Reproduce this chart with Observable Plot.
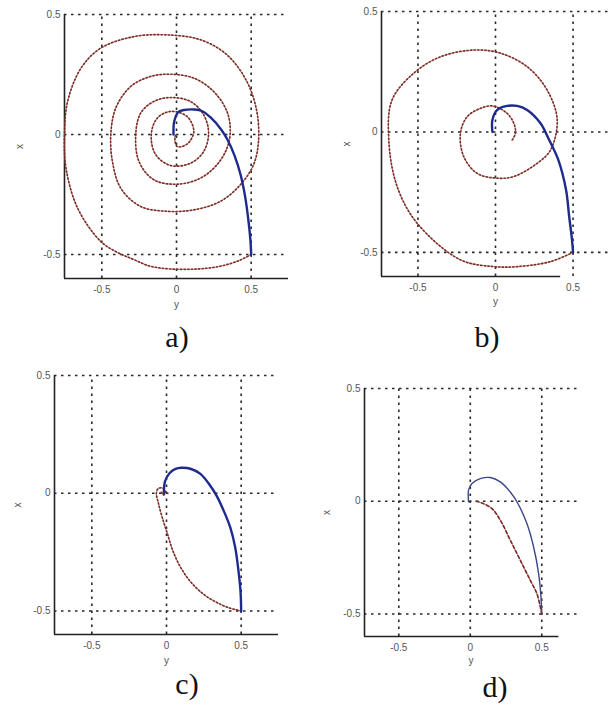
<!DOCTYPE html>
<html>
<head>
<meta charset="utf-8">
<script src="https://cdn.jsdelivr.net/npm/d3@7"></script>
<script src="https://cdn.jsdelivr.net/npm/@observablehq/plot@0.6"></script>
<style>
  html, body { margin: 0; padding: 0; background: #fff; }
  #fig { position: relative; width: 609px; height: 708px; overflow: hidden; background: #fff; }
  .panel { position: absolute; }
  .cap {
    position: absolute;
    font-family: "Liberation Serif", "DejaVu Serif", serif;
    font-size: 30px;
    line-height: 1;
    color: #111;
    transform: translate(-50%, -100%);
    white-space: nowrap;
  }
</style>
</head>
<body>
<div id="fig"></div>
<script>
// Tick positions and their printed labels (same on both axes)
const gridTicks = [-0.5, 0, 0.5];
const tickLabels = ["-0.5", "0", "0.5"];
const captions = ["a)", "b)", "c)", "d)"];

// Trajectories as [y, x] pairs: y runs along the horizontal axis, x along the vertical one.
// Solid (blue) trajectories
const solidA = [[-0.02,0.0],[-0.015,0.055],[0.015,0.095],[0.05,0.102],[0.12,0.104],[0.17,0.098],[0.23,0.07],[0.3,0.02],[0.34,-0.02],[0.39,-0.09],[0.43,-0.17],[0.46,-0.26],[0.48,-0.35],[0.495,-0.44],[0.5,-0.5]];
const solidB = [[-0.02,0.0],[-0.02,0.05],[0.01,0.091],[0.075,0.108],[0.14,0.108],[0.204,0.091],[0.29,0.036],[0.34,-0.025],[0.405,-0.116],[0.455,-0.241],[0.475,-0.351],[0.492,-0.44],[0.5,-0.5]];
const solidC = [[-0.018,0.0],[-0.01,0.05],[0.02,0.085],[0.06,0.103],[0.1,0.108],[0.16,0.104],[0.227,0.082],[0.293,0.032],[0.335,-0.01],[0.38,-0.07],[0.427,-0.145],[0.46,-0.23],[0.482,-0.33],[0.496,-0.42],[0.5,-0.5]];
const solidD = [[-0.012,-0.003],[-0.012,0.049],[0.012,0.079],[0.07,0.1],[0.14,0.105],[0.21,0.086],[0.28,0.041],[0.333,-0.01],[0.396,-0.099],[0.443,-0.203],[0.478,-0.321],[0.494,-0.42],[0.5,-0.5]];

// Dotted (red) trajectories
const dottedA = [[0.5,-0.5],[0.42,-0.525],[0.3,-0.548],[0.15,-0.56],[-0.05,-0.56],[-0.18,-0.548],[-0.29,-0.52],[-0.4,-0.49],[-0.507,-0.446],[-0.662,-0.307],[-0.74,-0.14],[-0.75,0.0],[-0.729,0.138],[-0.64,0.276],[-0.507,0.36],[-0.284,0.408],[-0.062,0.415],[0.16,0.395],[0.338,0.332],[0.471,0.221],[0.538,0.096],[0.549,-0.029],[0.516,-0.126],[0.427,-0.21],[0.293,-0.279],[0.116,-0.314],[-0.062,-0.32],[-0.24,-0.3],[-0.373,-0.224],[-0.429,-0.113],[-0.44,0.0],[-0.407,0.11],[-0.307,0.2],[-0.173,0.242],[-0.04,0.251],[0.116,0.235],[0.249,0.179],[0.338,0.096],[0.36,0.012],[0.338,-0.057],[0.271,-0.126],[0.16,-0.182],[0.004,-0.207],[-0.151,-0.189],[-0.251,-0.113],[-0.273,0.0],[-0.24,0.089],[-0.151,0.138],[-0.04,0.154],[0.093,0.138],[0.182,0.082],[0.215,0.005],[0.182,-0.071],[0.093,-0.12],[-0.04,-0.129],[-0.14,-0.083],[-0.169,0.0],[-0.129,0.068],[-0.04,0.096],[0.071,0.075],[0.116,0.012],[0.071,-0.04],[0.004,-0.05],[-0.01,-0.01],[0.0,0.0]];
const dottedB = [[0.5,-0.5],[0.355,-0.538],[0.14,-0.559],[-0.01,-0.559],[-0.226,-0.531],[-0.505,-0.379],[-0.634,-0.227],[-0.688,-0.033],[-0.667,0.133],[-0.527,0.244],[-0.355,0.312],[-0.14,0.34],[0.032,0.327],[0.204,0.271],[0.333,0.174],[0.398,0.05],[0.355,-0.075],[0.269,-0.13],[0.118,-0.185],[0.01,-0.192],[-0.118,-0.172],[-0.205,-0.102],[-0.226,-0.006],[-0.183,0.063],[-0.097,0.098],[-0.02,0.108],[0.075,0.077],[0.118,0.036],[0.129,-0.005],[0.108,-0.033]];
const dottedC = [[0.5,-0.5],[0.42,-0.487],[0.34,-0.465],[0.25,-0.43],[0.16,-0.375],[0.09,-0.31],[0.04,-0.24],[0.005,-0.17],[-0.03,-0.1],[-0.055,-0.04],[-0.068,0.0],[-0.055,0.02],[-0.025,0.022],[-0.005,0.005],[-0.02,-0.008],[-0.035,0.005]];
const dottedD = [[0.5,-0.5],[0.466,-0.41],[0.42,-0.351],[0.35,-0.262],[0.28,-0.173],[0.21,-0.084],[0.152,-0.033],[0.082,-0.008],[0.04,0.0]];

// Panel layout: svg placement, plot margins and axis domains
const panels = [
  { left: 0,   top: 0,   width: 300, height: 320, mt: 14, mr: 12, mb: 42, ml: 64,
    xd: [-0.75, 0.75], yd: [-0.6, 0.5], axisEnd: 0.75, ylabOff: 49, xlabOff: 29,
    solid: solidA, dotted: dottedA, blueW: 2.4, blue: "#1d2a8e", dash: "1.2,2.4",
    cap: { x: 177, base: 347 } },
  { left: 305, top: 0,   width: 304, height: 320, mt: 11, mr: 0,  mb: 44, ml: 76,
    xd: [-0.735, 0.735], yd: [-0.6, 0.5], axisEnd: 0.42, ylabOff: 39, xlabOff: 28,
    solid: solidB, dotted: dottedB, blueW: 2.4, blue: "#1d2a8e", dash: "1.2,2.4",
    cap: { x: 487, base: 347 } },
  { left: 0,   top: 350, width: 300, height: 358, mt: 25, mr: 22, mb: 74, ml: 54,
    xd: [-0.75, 0.75], yd: [-0.6, 0.5], axisEnd: 0.75, ylabOff: 41, xlabOff: 29,
    solid: solidC, dotted: dottedC, blueW: 2.4, blue: "#1d2a8e", dash: "1.2,2.4",
    cap: { x: 187, base: 694 } },
  { left: 305, top: 350, width: 304, height: 358, mt: 38, mr: 32, mb: 72, ml: 59,
    xd: [-0.74, 0.75], yd: [-0.6, 0.5], axisEnd: 0.62, ylabOff: 42, xlabOff: 27,
    solid: solidD, dotted: dottedD, blueW: 1.4, blue: "#3a4888", dash: "3,2.5",
    cap: { x: 495, base: 697 } }
];

const fig = document.getElementById("fig");
const fmt = d => tickLabels[gridTicks.indexOf(d)];

panels.forEach((p, i) => {
  const chart = Plot.plot({
    width: p.width,
    height: p.height,
    marginTop: p.mt, marginRight: p.mr, marginBottom: p.mb, marginLeft: p.ml,
    x: { domain: p.xd },
    y: { domain: p.yd },
    style: { fontFamily: "'Liberation Sans', Arial, sans-serif", fontSize: "10px", color: "#555", background: "transparent" },
    marks: [
      // dotted grid
      Plot.ruleX(gridTicks, { x: d => d, y1: p.yd[0], y2: p.yd[1], stroke: "#2a2a2a", strokeWidth: 1.6, strokeDasharray: "2.5,4.5" }),
      Plot.ruleY(gridTicks, { y: d => d, x1: p.xd[0], x2: p.xd[1], stroke: "#2a2a2a", strokeWidth: 1.6, strokeDasharray: "2.5,4.5" }),
      // axis lines
      Plot.ruleX([p.xd[0]], { y1: p.yd[0], y2: p.yd[1], stroke: "#222", strokeWidth: 1.6 }),
      Plot.ruleY([p.yd[0]], { x1: p.xd[0], x2: p.axisEnd, stroke: "#222", strokeWidth: 1.6 }),
      // dotted trajectory: faint red trace with dark dots on top
      Plot.line(p.dotted, { x: d => d[0], y: d => d[1], curve: "catmull-rom", stroke: "#e0574f", strokeWidth: 1.2, strokeOpacity: 0.55 }),
      Plot.line(p.dotted, { x: d => d[0], y: d => d[1], curve: "catmull-rom", stroke: "#6e302a", strokeWidth: 1.6, strokeDasharray: p.dash }),
      // solid trajectory
      Plot.line(p.solid, { x: d => d[0], y: d => d[1], curve: "catmull-rom", stroke: p.blue, strokeWidth: p.blueW }),
      Plot.axisX({ ticks: gridTicks, tickFormat: fmt, tickSize: 0, tickPadding: 7,
        label: "y", labelAnchor: "center", labelOffset: p.xlabOff, labelArrow: "none" }),
      Plot.axisY({ ticks: gridTicks, tickFormat: fmt, tickSize: 0, tickPadding: 4,
        label: "x", labelAnchor: "center", labelOffset: p.ylabOff, labelArrow: "none" })
    ]
  });
  chart.classList.add("panel");
  chart.style.left = p.left + "px";
  chart.style.top = p.top + "px";
  fig.appendChild(chart);

  const cap = document.createElement("div");
  cap.className = "cap";
  cap.textContent = captions[i];
  cap.style.left = p.cap.x + "px";
  cap.style.top = (p.cap.base + 5) + "px";
  fig.appendChild(cap);
});
</script>
</body>
</html>
